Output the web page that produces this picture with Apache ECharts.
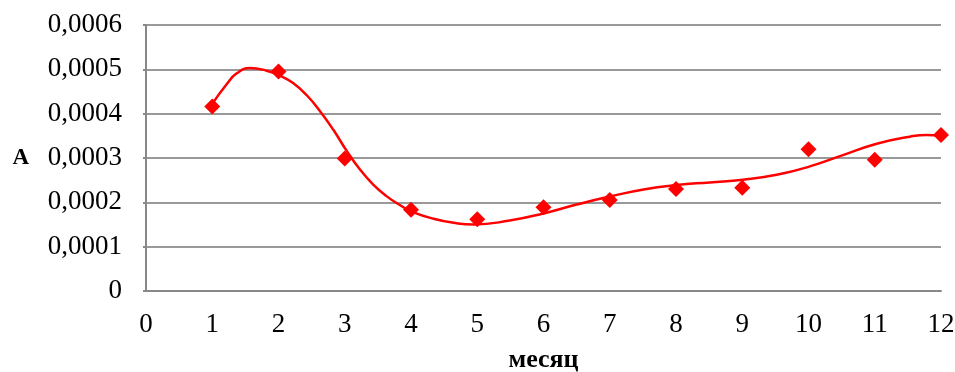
<!DOCTYPE html>
<html>
<head>
<meta charset="utf-8">
<script src="https://cdn.jsdelivr.net/npm/echarts@6/dist/echarts.min.js"></script>
<style>html,body{margin:0;padding:0;background:#fff}#c{width:955px;height:372px}</style>
</head>
<body>
<div id="c"></div>
<script>
var months = [1, 2, 3, 4, 5, 6, 7, 8, 9, 10, 11, 12];
var values = [0.000416, 0.000495, 0.000299, 0.000183, 0.000162, 0.000189, 0.000205, 0.000230, 0.000233, 0.000320, 0.000296, 0.000352];
var trendX = [1, 1.22, 1.37, 1.57, 1.82, 2.02, 2.22, 2.43, 2.63, 2.83, 3.03, 3.23, 3.43, 3.63, 3.83, 4.03, 4.34, 4.64, 4.94, 5.49, 6.0, 6.5, 7.0, 7.51, 8.01, 8.51, 9.01, 9.52, 10.02, 10.53, 11.03, 11.53, 11.78, 12];
var trendY = [0.000422, 0.000467, 0.000491, 0.000503, 0.000497, 0.000486, 0.000469, 0.000441, 0.000405, 0.000363, 0.000316, 0.000274, 0.000240, 0.000214, 0.000194, 0.000178, 0.000163, 0.000154, 0.000150, 0.000159, 0.000175, 0.000195, 0.000213, 0.000229, 0.000239, 0.000245, 0.000251, 0.000262, 0.000281, 0.000307, 0.000332, 0.000348, 0.000352, 0.000349];
var yTicks = ['0', '0,0001', '0,0002', '0,0003', '0,0004', '0,0005', '0,0006'];

var font = 'Liberation Serif, Times New Roman, serif';
var chart = echarts.init(document.getElementById('c'));
chart.setOption({
  animation: false,
  grid: {left: 146, right: 14, top: 25, bottom: 81, containLabel: false, outerBoundsMode: 'none'},
  xAxis: {
    type: 'value', min: 0, max: 12, interval: 1,
    name: 'месяц', nameLocation: 'middle', nameGap: 56,
    nameTextStyle: {fontFamily: font, fontSize: 26, fontWeight: 'bold', color: '#000'},
    axisLine: {lineStyle: {color: '#888', width: 2}},
    axisTick: {show: false},
    axisLabel: {fontFamily: font, fontSize: 27, color: '#000', margin: 20},
    splitLine: {show: false}
  },
  yAxis: {
    type: 'value', min: 0, max: 0.0006, interval: 0.0001,
    name: 'A', nameLocation: 'middle', nameGap: 117, nameRotate: 0,
    nameTextStyle: {fontFamily: font, fontSize: 23, fontWeight: 'bold', color: '#000'},
    axisLine: {show: true, lineStyle: {color: '#888', width: 2}},
    axisTick: {show: true, length: 3, lineStyle: {color: '#888', width: 2}},
    axisLabel: {fontFamily: font, fontSize: 27, color: '#000', margin: 24,
      formatter: function (v) { return yTicks[Math.round(v / 0.0001)]; }},
    splitLine: {lineStyle: {color: '#999', width: 2}}
  },
  series: [
    {
      type: 'line', smooth: 0.5, showSymbol: false,
      data: trendX.map(function (x, i) { return [x, trendY[i]]; }),
      lineStyle: {color: '#ff0000', width: 2.5},
      z: 2
    },
    {
      type: 'scatter', symbol: 'diamond', symbolSize: 16,
      data: months.map(function (m, i) { return [m, values[i]]; }),
      itemStyle: {color: '#ff0000', opacity: 1},
      z: 3
    }
  ]
});
</script>
</body>
</html>
